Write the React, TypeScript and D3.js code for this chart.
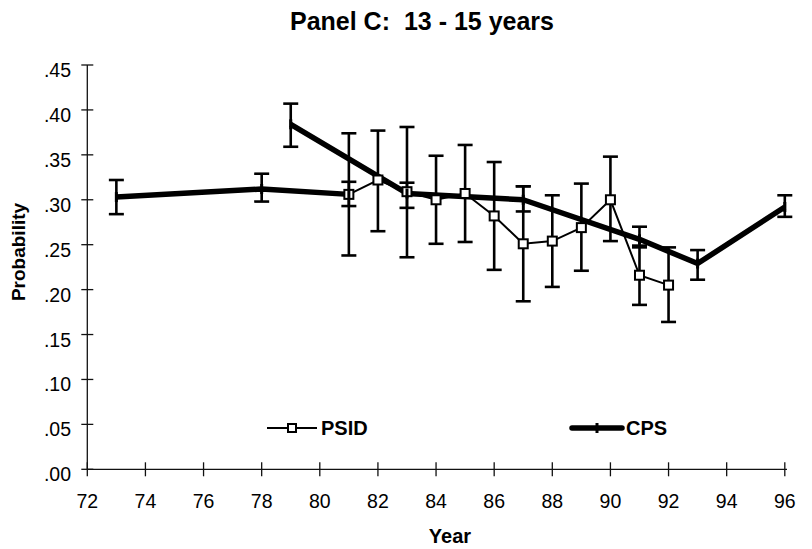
import { useEffect, useRef } from 'react'
import * as d3 from 'd3'

// PSID series (year, probability, 95% band)
const psidYear = [81, 82, 83, 84, 85, 86, 87, 88, 89, 90, 91, 92]
const psidValue = [0.306, 0.322, 0.309, 0.300, 0.307, 0.282, 0.251, 0.254, 0.269, 0.300, 0.216, 0.205]
const psidLow = [0.238, 0.265, 0.236, 0.251, 0.253, 0.222, 0.187, 0.203, 0.221, 0.254, 0.183, 0.164]
const psidHigh = [0.374, 0.377, 0.381, 0.349, 0.361, 0.342, 0.315, 0.305, 0.318, 0.348, 0.249, 0.247]

// CPS series, in the order the original workbook plots it (run = connected piece)
const cpsYear = [73, 78, 81, 79, 83, 87, 91, 93, 96]
const cpsValue = [0.303, 0.312, 0.306, 0.384, 0.307, 0.300, 0.256, 0.229, 0.292]
const cpsLow = [0.284, 0.298, 0.293, 0.359, 0.291, 0.287, 0.247, 0.211, 0.281]
const cpsHigh = [0.322, 0.329, 0.320, 0.407, 0.319, 0.315, 0.270, 0.244, 0.305]
const cpsRun = [1, 1, 1, 2, 2, 2, 2, 2, 2]

const xTicks = [72, 74, 76, 78, 80, 82, 84, 86, 88, 90, 92, 94, 96]
const yTicks = [0, 0.05, 0.1, 0.15, 0.2, 0.25, 0.3, 0.35, 0.4, 0.45]

const FONT = "'Liberation Sans', Arial, sans-serif"

export default function App() {
  const svgRef = useRef<SVGSVGElement>(null)

  useEffect(() => {
    if (!svgRef.current) return
    const svg = d3.select(svgRef.current)
    svg.selectAll('*').remove()

    const x = d3.scaleLinear().domain([72, 96]).range([87.3, 784.8])
    const y = d3.scaleLinear().domain([0, 0.45]).range([469.3, 65])

    // Title
    svg.append('text')
      .attr('x', 422).attr('y', 30)
      .attr('text-anchor', 'middle')
      .attr('font-family', FONT).attr('font-size', 25).attr('font-weight', 'bold')
      .style('white-space', 'pre')
      .text('Panel C:  13 - 15 years')

    // Axes
    const axes = svg.append('g').attr('stroke', '#111').attr('stroke-width', 1.3)
    axes.append('line')
      .attr('x1', x(72)).attr('x2', x(72))
      .attr('y1', y(0.45)).attr('y2', y(0))
    axes.append('line')
      .attr('x1', x(72)).attr('x2', 787)
      .attr('y1', y(0)).attr('y2', y(0))
    axes.selectAll('.yt').data(yTicks).enter().append('line')
      .attr('x1', x(72) - 6).attr('x2', x(72) + 6)
      .attr('y1', d => y(d)).attr('y2', d => y(d))
    axes.selectAll('.xt').data(xTicks).enter().append('line')
      .attr('x1', d => x(d)).attr('x2', d => x(d))
      .attr('y1', y(0) - 7).attr('y2', y(0) + 7)

    // Tick labels
    svg.selectAll('.ylab').data(yTicks).enter().append('text')
      .attr('x', 71).attr('y', d => y(d) + 12)
      .attr('text-anchor', 'end')
      .attr('font-family', FONT).attr('font-size', 19.5)
      .text(d => d3.format('.2f')(d).replace(/^0/, ''))
    svg.selectAll('.xlab').data(xTicks).enter().append('text')
      .attr('x', d => x(d)).attr('y', 507.5)
      .attr('text-anchor', 'middle')
      .attr('font-family', FONT).attr('font-size', 19.5)
      .text(d => String(d))

    // Axis titles
    svg.append('text')
      .attr('x', 450).attr('y', 543)
      .attr('text-anchor', 'middle')
      .attr('font-family', FONT).attr('font-size', 20).attr('font-weight', 'bold')
      .text('Year')
    svg.append('text')
      .attr('transform', 'translate(25,252) rotate(-90)')
      .attr('text-anchor', 'middle')
      .attr('font-family', FONT).attr('font-size', 19).attr('font-weight', 'bold')
      .text('Probability')

    // Error bars
    const errBars = (years: number[], lo: number[], hi: number[]) => {
      const g = svg.append('g').attr('stroke', '#000').attr('stroke-width', 2.6)
      years.forEach((yr, i) => {
        const cx = x(yr)
        g.append('line').attr('x1', cx).attr('x2', cx).attr('y1', y(lo[i])).attr('y2', y(hi[i]))
        g.append('line').attr('x1', cx - 7.5).attr('x2', cx + 7.5).attr('y1', y(lo[i])).attr('y2', y(lo[i]))
        g.append('line').attr('x1', cx - 7.5).attr('x2', cx + 7.5).attr('y1', y(hi[i])).attr('y2', y(hi[i]))
      })
    }
    errBars(psidYear, psidLow, psidHigh)
    errBars(cpsYear, cpsLow, cpsHigh)

    // CPS thick line, one path per run
    const line = d3.line<[number, number]>().x(d => x(d[0])).y(d => y(d[1]))
    const runs = d3.groups(cpsYear.map((yr, i) => ({ yr, v: cpsValue[i], run: cpsRun[i] })), d => d.run)
    runs.forEach(([, pts]) => {
      svg.append('path')
        .attr('d', line(pts.map(p => [p.yr, p.v] as [number, number])))
        .attr('fill', 'none').attr('stroke', '#000').attr('stroke-width', 5.5)
        .attr('stroke-linejoin', 'round')
    })

    // PSID thin line with squares
    svg.append('path')
      .attr('d', line(psidYear.map((yr, i) => [yr, psidValue[i]] as [number, number])))
      .attr('fill', 'none').attr('stroke', '#000').attr('stroke-width', 2)
    svg.selectAll('.sq').data(psidYear).enter().append('rect')
      .attr('x', d => x(d) - 4.5).attr('y', (d, i) => y(psidValue[i]) - 4.5)
      .attr('width', 9).attr('height', 9)
      .attr('fill', '#fff').attr('stroke', '#000').attr('stroke-width', 2)

    // CPS dash markers
    svg.selectAll('.cm').data(cpsYear).enter().append('line')
      .attr('x1', d => x(d)).attr('x2', d => x(d))
      .attr('y1', (d, i) => y(cpsValue[i]) - 5).attr('y2', (d, i) => y(cpsValue[i]) + 5)
      .attr('stroke', '#000').attr('stroke-width', 3)

    // Legend
    const lg = svg.append('g')
    lg.append('line').attr('x1', 267).attr('x2', 317).attr('y1', 428).attr('y2', 428)
      .attr('stroke', '#000').attr('stroke-width', 2)
    lg.append('rect').attr('x', 288).attr('y', 424).attr('width', 8).attr('height', 8)
      .attr('fill', '#fff').attr('stroke', '#000').attr('stroke-width', 2)
    lg.append('text').attr('x', 321).attr('y', 435)
      .attr('font-family', FONT).attr('font-size', 20).attr('font-weight', 'bold')
      .text('PSID')
    lg.append('line').attr('x1', 572).attr('x2', 622).attr('y1', 428).attr('y2', 428)
      .attr('stroke', '#000').attr('stroke-width', 5.5).attr('stroke-linecap', 'round')
    lg.append('line').attr('x1', 597).attr('x2', 597).attr('y1', 423).attr('y2', 433)
      .attr('stroke', '#000').attr('stroke-width', 3)
    lg.append('text').attr('x', 626).attr('y', 435)
      .attr('font-family', FONT).attr('font-size', 20).attr('font-weight', 'bold')
      .text('CPS')
  }, [])

  return (
    <div style={{ position: 'fixed', left: 0, top: 0, background: '#fff' }}>
      <svg ref={svgRef} width={812} height={549} style={{ display: 'block' }} />
    </div>
  )
}
